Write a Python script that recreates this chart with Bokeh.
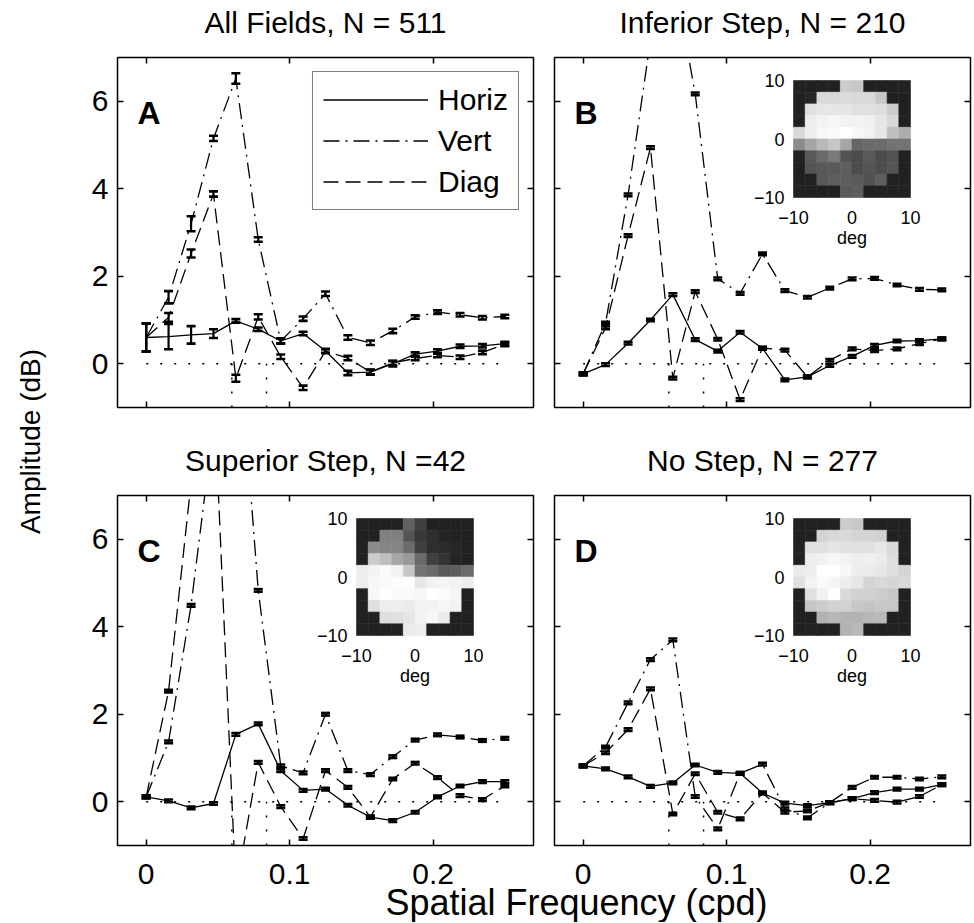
import math
from bokeh.plotting import figure
from bokeh.layouts import row, column
from bokeh.models import Range1d, Label, Legend, LegendItem, FixedTicker, LinearAxis
from bokeh.embed import file_html
from bokeh.resources import INLINE

FONT = "Liberation Sans"
FS = "30px"

# ---------------- data ----------------
freq = [0.0, 0.0156, 0.0313, 0.0469, 0.0625, 0.0781, 0.0938, 0.1094, 0.1250,
        0.1406, 0.1563, 0.1719, 0.1875, 0.2031, 0.2188, 0.2344, 0.2500]
step_freqs = [0.0597, 0.0839]

a_horiz = [0.60, 0.62, 0.66, 0.69, 0.98, 0.79, 0.52, 0.69, 0.29, -0.21, -0.19, 0.00, 0.22, 0.29, 0.40, 0.41, 0.46]
a_horiz_err = [0.32, 0.29, 0.20, 0.10, 0.04, 0.04, 0.06, 0.04, 0.04, 0.05, 0.06, 0.06, 0.04, 0.04, 0.04, 0.04, 0.04]
a_vert = [0.60, 1.52, 3.20, 5.15, 6.52, 2.84, 0.52, 1.03, 1.60, 0.60, 0.48, 0.75, 1.07, 1.18, 1.12, 1.05, 1.08]
a_vert_err = [0.32, 0.14, 0.17, 0.06, 0.12, 0.05, 0.05, 0.05, 0.05, 0.05, 0.05, 0.05, 0.04, 0.04, 0.04, 0.04, 0.04]
a_diag = [0.60, 1.06, 2.52, 3.88, -0.33, 1.07, 0.16, -0.55, 0.29, 0.13, -0.19, 0.02, 0.12, 0.19, 0.15, 0.26, 0.44]
a_diag_err = [0.32, 0.10, 0.09, 0.06, 0.08, 0.06, 0.05, 0.05, 0.05, 0.05, 0.05, 0.05, 0.04, 0.04, 0.04, 0.04, 0.04]

b_horiz = [-0.23, -0.02, 0.47, 1.00, 1.58, 0.55, 0.29, 0.72, 0.35, -0.37, -0.30, -0.04, 0.17, 0.42, 0.52, 0.53, 0.57]
b_vert = [-0.23, 0.93, 3.86, 7.40, 9.00, 6.17, 1.94, 1.61, 2.51, 1.67, 1.52, 1.73, 1.94, 1.95, 1.80, 1.70, 1.69]
b_diag = [-0.23, 0.82, 2.93, 4.94, -0.33, 1.65, 0.56, -0.82, 0.36, 0.31, -0.30, 0.08, 0.34, 0.30, 0.34, 0.46, 0.57]

c_horiz = [0.11, 0.02, -0.14, -0.04, 1.54, 1.78, 0.71, 0.26, 0.29, -0.08, -0.35, -0.43, -0.24, 0.11, 0.36, 0.46, 0.46]
c_vert = [0.11, 1.37, 4.49, 8.60, 11.50, 4.83, 0.82, 0.66, 2.00, 0.71, 0.62, 1.03, 1.41, 1.53, 1.48, 1.40, 1.45]
c_diag = [0.11, 2.53, 7.30, 9.60, -2.00, 0.90, -0.11, -0.84, 0.71, 0.33, -0.35, 0.52, 0.88, 0.55, 0.14, 0.05, 0.36]

d_horiz = [0.82, 0.75, 0.57, 0.35, 0.43, 0.84, 0.67, 0.65, 0.20, -0.03, -0.09, -0.02, 0.07, 0.21, 0.29, 0.29, 0.39]
d_vert = [0.82, 1.25, 2.26, 3.25, 3.70, 0.12, -0.62, 0.65, 0.86, -0.16, -0.37, -0.02, 0.33, 0.56, 0.56, 0.52, 0.57]
d_diag = [0.82, 1.12, 1.65, 2.58, -0.28, 0.64, -0.24, -0.39, 0.20, -0.24, -0.21, -0.02, 0.07, 0.03, -0.01, 0.12, 0.39]

small_err = [0.03, 0.03, 0.03, 0.03, 0.03, 0.03, 0.03, 0.03, 0.03, 0.03, 0.03, 0.03, 0.03, 0.03, 0.03, 0.03, 0.03]

titles = ["All Fields, N = 511", "Inferior Step, N = 210", "Superior Step, N =42", "No Step, N = 277"]
letters = ["A", "B", "C", "D"]
legend_labels = ["Horiz", "Vert", "Diag"]
x_ticks = [0, 0.1, 0.2]
x_tick_labels = ["0", "0.1", "0.2"]
y_ticks = [0, 2, 4, 6]
x_title = "Spatial Frequency (cpd)"
y_title = "Amplitude (dB)"

# inset maps (rows top -> bottom, gray level 0..1)
inset_deg_centers = [-9, -7, -5, -3, -1, 1, 3, 5, 7, 9]
inset_deg_ticks = [-10, 0, 10]
inset_tick_labels = ["\u221210", "0", "10"]

inset_b = [
    [0.13, 0.13, 0.13, 0.13, 0.80, 0.78, 0.13, 0.13, 0.13, 0.13],
    [0.13, 0.15, 0.85, 0.85, 0.86, 0.85, 0.85, 0.78, 0.13, 0.13],
    [0.13, 0.88, 0.90, 0.90, 0.90, 0.88, 0.88, 0.87, 0.80, 0.13],
    [0.13, 0.93, 0.95, 0.97, 0.95, 0.95, 0.94, 0.90, 0.85, 0.13],
    [0.85, 0.93, 0.97, 0.98, 1.00, 0.97, 0.95, 0.90, 0.75, 0.68],
    [0.55, 0.65, 0.72, 0.78, 0.65, 0.40, 0.42, 0.42, 0.45, 0.45],
    [0.13, 0.35, 0.42, 0.48, 0.33, 0.30, 0.35, 0.30, 0.32, 0.13],
    [0.13, 0.33, 0.35, 0.35, 0.37, 0.30, 0.33, 0.30, 0.33, 0.13],
    [0.13, 0.13, 0.35, 0.37, 0.37, 0.35, 0.32, 0.37, 0.13, 0.13],
    [0.13, 0.13, 0.13, 0.13, 0.35, 0.37, 0.13, 0.13, 0.13, 0.13],
]
inset_c = [
    [0.13, 0.13, 0.13, 0.13, 0.38, 0.25, 0.13, 0.13, 0.13, 0.13],
    [0.13, 0.13, 0.50, 0.50, 0.33, 0.22, 0.18, 0.14, 0.13, 0.13],
    [0.13, 0.55, 0.52, 0.52, 0.42, 0.25, 0.18, 0.17, 0.15, 0.13],
    [0.13, 0.80, 0.75, 0.65, 0.60, 0.42, 0.25, 0.20, 0.14, 0.13],
    [0.93, 0.95, 0.98, 0.95, 0.78, 0.45, 0.42, 0.35, 0.37, 0.42],
    [0.93, 0.97, 0.98, 0.99, 1.00, 0.90, 0.95, 0.96, 0.95, 0.93],
    [0.13, 0.97, 1.00, 0.98, 0.98, 0.97, 1.00, 0.99, 0.96, 0.13],
    [0.13, 0.88, 0.93, 0.93, 0.92, 0.95, 0.95, 0.97, 0.95, 0.13],
    [0.13, 0.13, 0.87, 0.88, 0.90, 0.95, 0.97, 0.92, 0.13, 0.13],
    [0.13, 0.13, 0.13, 0.13, 0.92, 0.93, 0.13, 0.13, 0.13, 0.13],
]
inset_d = [
    [0.13, 0.13, 0.13, 0.13, 0.80, 0.78, 0.13, 0.13, 0.13, 0.13],
    [0.13, 0.13, 0.83, 0.85, 0.85, 0.83, 0.83, 0.82, 0.13, 0.13],
    [0.13, 0.88, 0.88, 0.90, 0.88, 0.88, 0.88, 0.90, 0.85, 0.13],
    [0.13, 0.93, 0.95, 0.97, 0.95, 0.93, 0.94, 0.92, 0.87, 0.13],
    [0.92, 0.93, 1.00, 1.00, 0.97, 0.93, 0.92, 0.90, 0.87, 0.83],
    [0.88, 0.95, 0.98, 0.96, 0.93, 0.90, 0.83, 0.85, 0.83, 0.85],
    [0.13, 0.88, 0.95, 1.00, 0.85, 0.82, 0.82, 0.80, 0.78, 0.13],
    [0.13, 0.78, 0.80, 0.82, 0.82, 0.78, 0.77, 0.78, 0.78, 0.13],
    [0.13, 0.13, 0.70, 0.72, 0.70, 0.70, 0.72, 0.73, 0.13, 0.13],
    [0.13, 0.13, 0.13, 0.13, 0.70, 0.72, 0.13, 0.13, 0.13, 0.13],
]

# ---------------- layout constants (page pixels) ----------------
XMIN, XMAX, YMIN, YMAX = -0.02, 0.27, -1.0, 7.0
FW, FH = 416, 350
XS = FW / (XMAX - XMIN)
YS = FH / (YMAX - YMIN)
INSET_L, INSET_T, INSET_S = 239, 23, 117

YLAB_W = 68
LEFT_COL_L, LEFT_COL_R = 49, 11      # borders of A / C
RIGHT_COL_L, RIGHT_COL_R = 10, 2     # borders of B / D
FRAME_LEFTS = [YLAB_W + LEFT_COL_L,
               YLAB_W + LEFT_COL_L + FW + LEFT_COL_R + RIGHT_COL_L]
TITLE1_H, TITLE2_H = 54, 82
PAD = 3
BOTTOM_H = 74
TOTAL_W = FRAME_LEFTS[1] + FW + RIGHT_COL_R
ROWS_H = TITLE1_H + 2 * (FH + 2 * PAD) + TITLE2_H

DASHES = ["solid", "16 6 2 6", "15 7"]


def dx(px):
    return XMIN + px / XS


def dy(py):
    return YMAX - py / YS


def style_axis(ax):
    ax.axis_line_color = None
    ax.major_tick_in = 6
    ax.major_tick_out = 0
    ax.major_tick_line_color = "black"
    ax.major_tick_line_width = 1.5
    ax.minor_tick_line_color = None


def hide_labels(ax, ticks):
    ax.major_label_text_font_size = "0px"
    ax.major_label_standoff = 0
    ax.major_label_overrides = {t: "" for t in ticks}


def add_axes(p, show_y):
    for loc in ("below", "above"):
        ax = LinearAxis(ticker=FixedTicker(ticks=x_ticks))
        style_axis(ax)
        hide_labels(ax, x_ticks)
        p.add_layout(ax, loc)
    for loc in ("left", "right"):
        ax = LinearAxis(ticker=FixedTicker(ticks=y_ticks))
        style_axis(ax)
        if loc == "left" and show_y:
            ax.major_label_text_font = FONT
            ax.major_label_text_font_size = FS
            ax.major_label_text_color = "black"
            ax.major_label_standoff = 9
        else:
            hide_labels(ax, y_ticks)
        p.add_layout(ax, loc)


def gray_hex(g):
    v = int(round(g * 255))
    return "#%02x%02x%02x" % (v, v, v)


def draw_inset(p, grid):
    x0, x1 = dx(INSET_L), dx(INSET_L + INSET_S)
    yb, yt = dy(INSET_T + INSET_S), dy(INSET_T)

    def X(d):
        return x0 + (d + 10) / 20 * (x1 - x0)

    def Y(d):
        return yb + (d + 10) / 20 * (yt - yb)

    cw = X(2) - X(0)
    ch = Y(2) - Y(0)
    xs, ys, cols = [], [], []
    rows_deg = inset_deg_centers[::-1]
    for r, vals in enumerate(grid):
        for c, g in enumerate(vals):
            xs.append(X(inset_deg_centers[c]))
            ys.append(Y(rows_deg[r]))
            cols.append(gray_hex(g))
    p.rect(x=xs, y=ys, width=cw, height=ch, fill_color=cols, line_color=cols, line_width=0.6)
    for d, t in zip(inset_deg_ticks, inset_tick_labels):
        p.add_layout(Label(x=x0 - 9 / XS, y=Y(d), text=t, text_align="right", text_baseline="middle",
                           text_font=FONT, text_font_size="18px", text_color="black"))
        p.add_layout(Label(x=X(d), y=yb - 20 / YS, text=t, text_align="center", text_baseline="middle",
                           text_font=FONT, text_font_size="18px", text_color="black"))
    p.add_layout(Label(x=X(0), y=yb - 40 / YS, text="deg", text_align="center", text_baseline="middle",
                       text_font=FONT, text_font_size="18px", text_color="black"))


def draw_series(p, ys, err, dash):
    r = p.line(freq, ys, line_color="black", line_width=1.3, line_dash=dash)
    lo = [v - e for v, e in zip(ys, err)]
    hi = [v + e for v, e in zip(ys, err)]
    p.segment(x0=freq, y0=lo, x1=freq, y1=hi, line_color="black", line_width=2.2)
    p.scatter(x=freq + freq, y=lo + hi, marker="dash", size=9, line_color="black", line_width=2.6)
    return r


def make_panel(idx, series, inset, show_y, left, right, legend=False):
    p = figure(frame_width=FW, frame_height=FH,
               x_range=Range1d(XMIN, XMAX), y_range=Range1d(YMIN, YMAX),
               x_axis_location=None, y_axis_location=None,
               toolbar_location=None, output_backend="svg",
               min_border_left=left, min_border_right=right,
               min_border_top=PAD, min_border_bottom=PAD)
    p.grid.visible = False
    p.outline_line_color = "black"
    p.outline_line_width = 1.5
    p.background_fill_color = "white"
    p.border_fill_color = "white"
    add_axes(p, show_y)

    p.line([freq[0], freq[-1]], [0, 0], line_color="black", line_width=1.5, line_dash="2 12")
    for fm in step_freqs:
        p.line([fm, fm], [YMIN, 0], line_color="black", line_width=1.5, line_dash="2 12")

    if inset is not None:
        draw_inset(p, inset)

    renderers = []
    for (ys, err), dash in zip(series, DASHES):
        renderers.append(draw_series(p, ys, err, dash))

    p.add_layout(Label(x=dx(20), y=dy(55), text=letters[idx], text_align="left",
                       text_baseline="middle", text_font=FONT, text_font_size="32px",
                       text_font_style="bold", text_color="black"))

    if legend:
        items = [LegendItem(label=lab, renderers=[r]) for lab, r in zip(legend_labels, renderers)]
        lg = Legend(items=items, location="top_right", margin=14, padding=10, spacing=6,
                    glyph_width=105, glyph_height=35, label_height=35, label_standoff=10,
                    label_text_font=FONT, label_text_font_size=FS, label_text_color="black",
                    border_line_color="black", border_line_width=1.5,
                    background_fill_color="white", background_fill_alpha=1.0)
        p.add_layout(lg)
    return p


def strip(w, h):
    s = figure(width=w, height=h, x_range=Range1d(0, w), y_range=Range1d(0, h),
               x_axis_location=None, y_axis_location=None, toolbar_location=None,
               output_backend="svg", min_border_left=0, min_border_right=0,
               min_border_top=0, min_border_bottom=0)
    s.grid.visible = False
    s.outline_line_color = None
    s.background_fill_color = "white"
    s.border_fill_color = "white"
    return s


def title_strip(h, idx_pair, center_y_from_top):
    s = strip(TOTAL_W - YLAB_W, h)
    for idx, fl in zip(idx_pair, FRAME_LEFTS):
        s.add_layout(Label(x=fl + FW / 2 - YLAB_W, y=h - center_y_from_top, text=titles[idx],
                           text_align="center", text_baseline="middle", text_font=FONT,
                           text_font_size=FS, text_color="black"))
    return s


pA = make_panel(0, [(a_horiz, a_horiz_err), (a_vert, a_vert_err), (a_diag, a_diag_err)], None,
                True, LEFT_COL_L, LEFT_COL_R, legend=True)
pB = make_panel(1, [(b_horiz, small_err), (b_vert, small_err), (b_diag, small_err)], inset_b,
                False, RIGHT_COL_L, RIGHT_COL_R)
pC = make_panel(2, [(c_horiz, small_err), (c_vert, small_err), (c_diag, small_err)], inset_c,
                True, LEFT_COL_L, LEFT_COL_R)
pD = make_panel(3, [(d_horiz, small_err), (d_vert, small_err), (d_diag, small_err)], inset_d,
                False, RIGHT_COL_L, RIGHT_COL_R)

t1 = title_strip(TITLE1_H, (0, 1), 22)
t2 = title_strip(TITLE2_H, (2, 3), 50)

ylab = strip(YLAB_W, ROWS_H)
ylab.add_layout(Label(x=30, y=ROWS_H - 441, text=y_title, angle=math.pi / 2, text_align="center",
                      text_baseline="middle", text_font=FONT, text_font_size="28px", text_color="black"))

bottom = strip(TOTAL_W, BOTTOM_H)
for fl in FRAME_LEFTS:
    for t, s in zip(x_ticks, x_tick_labels):
        bottom.add_layout(Label(x=fl + (t - XMIN) * XS, y=BOTTOM_H - 25, text=s, text_align="center",
                                text_baseline="middle", text_font=FONT, text_font_size=FS,
                                text_color="black"))
bottom.add_layout(Label(x=576, y=20, text=x_title, text_align="center", text_baseline="middle",
                        text_font=FONT, text_font_size="36px", text_color="black"))

layout = column(row(ylab, column(t1, row(pA, pB), t2, row(pC, pD))), bottom)

open("out.html", "w").write(file_html(layout, INLINE))
